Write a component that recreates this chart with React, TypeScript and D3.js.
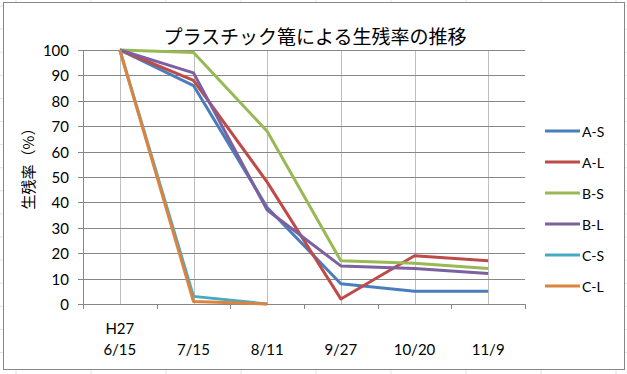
import * as d3 from 'd3';

const categories = ['H27\n6/15', '7/15', '8/11', '9/27', '10/20', '11/9'];
const seriesNames = ['A-S', 'A-L', 'B-S', 'B-L', 'C-S', 'C-L'];
const aS = [100, 86, 38, 8, 5, 5];
const aL = [100, 88, 48, 2, 19, 17];
const bS = [100, 99, 68, 17, 16, 14];
const bL = [100, 91, 37, 15, 14, 12];
const cS = [100, 3, 0, null, null, null];
const cL = [100, 1, 0, null, null, null];
const seriesValues = [aS, aL, bS, bL, cS, cL];
const colors = ['#4A7EBB', '#BE4B48', '#98B954', '#7D60A0', '#46AAC5', '#DB843D'];
const yTicks = [0, 10, 20, 30, 40, 50, 60, 70, 80, 90, 100];

const W = 627;
const H = 374;
const plot = { left: 83, right: 525, top: 50, bottom: 304 };
const labelFont = 'Lato, "Noto Sans", sans-serif';
const jpFont = '"Noto Sans CJK JP", sans-serif';

export default function App() {
  const x = d3.scaleBand<string>().domain(categories).range([plot.left, plot.right]);
  const y = d3.scaleLinear().domain([0, 100]).range([plot.bottom, plot.top]);
  const cx = (c: string) => (x(c) ?? 0) + x.bandwidth() / 2;

  const line = d3.line<number | null>()
    .defined(d => d != null)
    .x((_, i) => cx(categories[i]))
    .y(d => y(d as number));

  // boundaries between categories (tick marks on the x axis)
  const bounds = categories.map(c => x(c) ?? 0).concat([plot.right]);

  // spreadsheet cells behind the chart
  const sheetCols = d3.range(16, W, 75);
  const sheetRows = d3.range(6, H, 23.1);

  return (
    <svg width={W} height={H} style={{ position: 'absolute', left: 0, top: 0, background: '#fff' }}>
      {sheetCols.map(v => <line key={'c' + v} x1={v} x2={v} y1={0} y2={H} stroke="#E0E2E3" />)}
      {sheetRows.map(v => <line key={'r' + v} x1={0} x2={W} y1={v} y2={v} stroke="#E0E2E3" />)}

      <rect x={3.5} y={2.5} width={621} height={367} fill="#fff" stroke="#878787" />

      <text x={315} y={35} textAnchor="middle" dominantBaseline="central"
        fontFamily={jpFont} fontSize={19} fill="#000">プラスチック篭による生残率の推移</text>

      {/* vertical gridlines at category centers */}
      {categories.map(c => (
        <line key={'vg' + c} x1={Math.round(cx(c)) + 0.5} x2={Math.round(cx(c)) + 0.5}
          y1={plot.top} y2={plot.bottom} stroke="#BFBFBF" />
      ))}
      {/* horizontal gridlines + y ticks */}
      {yTicks.map(t => (
        <g key={'yt' + t}>
          <line x1={plot.left - 5} x2={plot.right} y1={Math.round(y(t)) + 0.5} y2={Math.round(y(t)) + 0.5}
            stroke="#878787" />
          <text x={69} y={y(t)} textAnchor="end" dominantBaseline="central"
            fontFamily={labelFont} fontSize={15} fill="#000">{t}</text>
        </g>
      ))}
      {/* axes */}
      <line x1={plot.left + 0.5} x2={plot.left + 0.5} y1={plot.top} y2={plot.bottom} stroke="#878787" />
      {bounds.map(b => (
        <line key={'xt' + b} x1={Math.round(b) + 0.5} x2={Math.round(b) + 0.5}
          y1={plot.bottom} y2={plot.bottom + 5} stroke="#878787" />
      ))}
      {categories.map(c => {
        const parts = c.split('\n');
        return (
          <text key={'xl' + c} x={cx(c)} textAnchor="middle" fontFamily={labelFont} fontSize={15} fill="#000">
            {parts.map((p, i) => (
              <tspan key={p} x={cx(c)} y={349 - (parts.length - 1 - i) * 21} dominantBaseline="central">{p}</tspan>
            ))}
          </text>
        );
      })}

      <text transform="translate(27,165) rotate(-90)" textAnchor="middle" dominantBaseline="central"
        fontFamily={jpFont} fontSize={15} fill="#000">生残率（%）</text>

      {/* series */}
      {seriesValues.map((vals, i) => (
        <path key={seriesNames[i]} d={line(vals) ?? ''} fill="none" stroke={colors[i]}
          strokeWidth={3} strokeLinejoin="round" />
      ))}

      {/* legend */}
      {seriesNames.map((n, i) => {
        const ly = 131 + i * 31;
        return (
          <g key={'lg' + n}>
            <line x1={545} x2={580} y1={ly} y2={ly} stroke={colors[i]} strokeWidth={3} />
            <text x={582} y={ly} dominantBaseline="central" fontFamily={labelFont} fontSize={14} fill="#000">{n}</text>
          </g>
        );
      })}
    </svg>
  );
}
